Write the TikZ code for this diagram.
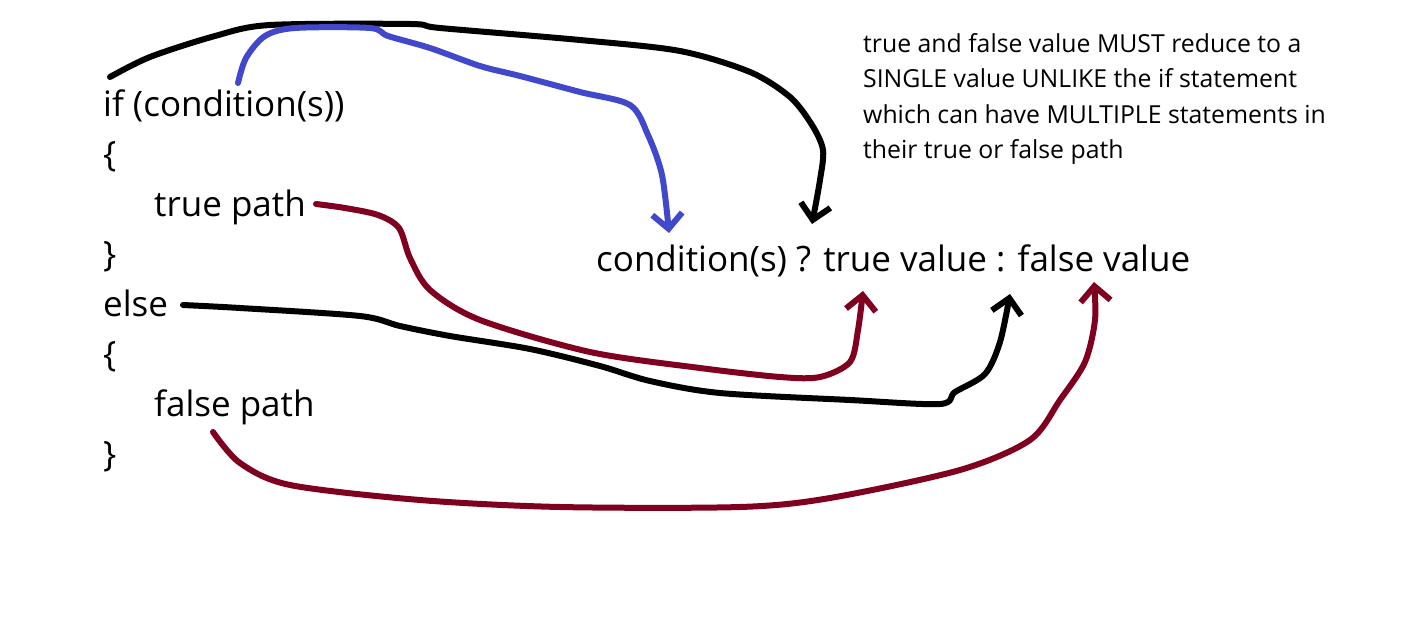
\documentclass[tikz,border=0pt]{standalone}
\usepackage{fontspec}
\setmainfont{Open Sans}
\usepackage{tikz}
\usetikzlibrary{
    arrows.meta,
    positioning,
    calc
}
\definecolor{Cblue}{RGB}{66, 72, 204}
\definecolor{Cred}{RGB}{128, 0, 32}
\tikzset{
    ccode/.style={
        anchor=base west, inner sep=0pt, text=black,
        font=\fontsize{35}{42}\selectfont
    },
    cnote/.style={
        anchor=north west, inner sep=0pt, align=left, text=black,
        font=\fontsize{24.8}{35.5}\selectfont
    },
    cink/.style={
        line width=6pt, line cap=round, line join=round,
        -{Straight Barb[length=15pt, width=30pt]}
    },
}

\begin{document}
\begin{tikzpicture}[x=1pt, y=-1pt]

    \useasboundingbox (0,0) rectangle (1416,634);

    % if / else block
    \node [ccode] (ifln)  at (103,116) {if (condition(s))};
    \node [ccode] (ob1)   at (103,166) {\{};
    \node [ccode] (tpath) at (154,216) {true path};
    \node [ccode] (cb1)   at (103,266) {\}};
    \node [ccode] (elsel) at (103,316) {else};
    \node [ccode] (ob2)   at (103,366) {\{};
    \node [ccode] (fpath) at (154,416) {false path};
    \node [ccode] (cb2)   at (103,466) {\}};

    % ternary form
    \node [ccode] (tern) at (596,271) {condition(s) ? true value : false value};

    \node [cnote] (note) at (863,33)
        {true and false value MUST reduce to a\\
         SINGLE value UNLIKE the if statement\\
         which can have MULTIPLE statements in\\
         their true or false path};

    % connector ends
    \coordinate (ifS)   at (110,77);
    \coordinate (ifE)   at (812,224);
    \coordinate (condS) at (238,83);
    \coordinate (condE) at (669,233);
    \coordinate (trS)   at (316,204);
    \coordinate (trE)   at (863,291);
    \coordinate (elS)   at (183,305);
    \coordinate (elE)   at (1010,294);
    \coordinate (faS)   at (213,432);
    \coordinate (faE)   at (1094,282);

    \draw [cink, black] plot [smooth, tension=0.5] coordinates {
        (ifS) (150,57) (215,36) (270,25) (410,24) (440,28) (580,40)
        (680,51) (750,72) (790,97) (812,125) (823,150) (820,180) (812,224)};
    \draw [cink, Cblue] plot [smooth, tension=0.5] coordinates {
        (condS) (246,58) (265,36) (295,28) (370,28) (388,36) (430,48)
        (480,66) (520,76) (580,92) (630,105) (648,135) (662,175) (condE)};
    \draw [cink, Cred] plot [smooth, tension=0.5] coordinates {
        (trS) (345,208) (378,215) (399,228) (410,258) (430,290)
        (480,320) (590,352) (700,368) (780,377) (820,377) (850,362)
        (858,330) (trE)};
    \draw [cink, black] plot [smooth, tension=0.5] coordinates {
        (elS) (240,308) (360,316) (400,326) (450,336) (530,349)
        (600,366) (650,381) (720,393) (850,400) (940,404) (955,392)
        (985,374) (1000,342) (elE)};
    \draw [cink, Cred] plot [smooth, tension=0.5] coordinates {
        (faS) (240,463) (290,485) (420,500) (560,507) (740,507)
        (830,498) (960,470) (1030,440) (1060,400) (1085,362)
        (1095,320) (faE)};

\end{tikzpicture}
\end{document}
